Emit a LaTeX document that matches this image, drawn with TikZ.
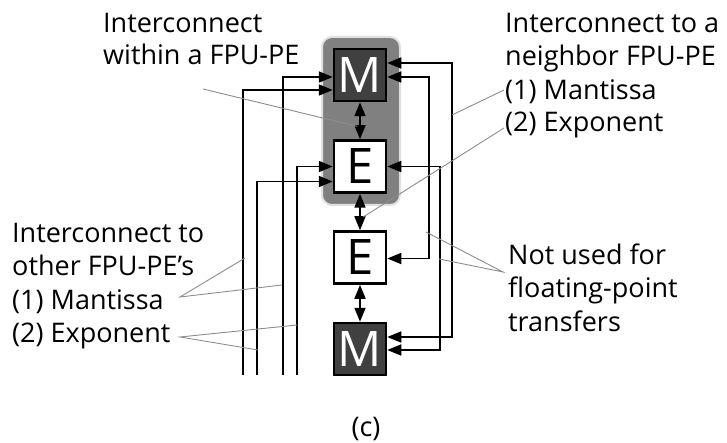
\documentclass[tikz,border=0pt]{standalone}
\usepackage{fontspec}
\setmainfont{Open Sans}
\usepackage{tikz}
\usetikzlibrary{arrows.meta,positioning,calc}

\tikzset{
  unit/.style={draw=black, line width=2.5pt, minimum size=52pt, inner sep=0pt, font=\fontsize{49}{49}\selectfont},
  mbox/.style={unit, fill=black!75, text=white},
  ebox/.style={unit, fill=white},
  txt/.style={anchor=base west, inner sep=0pt, font=\fontsize{27}{33}\selectfont},
  wire/.style={line width=1.7pt, -{Triangle[length=14pt,width=11pt]}},
  duplex/.style={line width=1.7pt, {Triangle[length=14pt,width=11pt]}-{Triangle[length=14pt,width=11pt]}},
  pointer/.style={draw=black!45, line width=0.9pt},
}

\begin{document}
\begin{tikzpicture}[x=1pt,y=-1pt]
\useasboundingbox (0,0) rectangle (727,443);
% FPU-PE
\draw[rounded corners=10pt, fill=black!50, draw=black!12, line width=2pt] (322,37) rectangle (400,205);
\node[mbox] (M1) at (360,75) {M};
\node[ebox] (E1) at (360,166.5) {E};
\node[ebox] (E2) at (360,257.5) {E};
\node[mbox] (M2) at (360,349) {M};
\draw[duplex] (M1) -- (E1);
\draw[duplex] (E1) -- (E2);
\draw[duplex] (E2) -- (M2);
% neighbor links
\draw[duplex] ([yshift=12pt]M1.east) -- ++(65,0) |- ([yshift=12pt]M2.east);
\draw[duplex] (E1.east) -- ++(53,0) |- ([yshift=-1pt]M2.east);
\draw[duplex] ([yshift=-2pt]M1.east) -- ++(42,0) |- ([yshift=-1pt]E2.east);
% links to other FPU-PEs
\coordinate (b1) at (243,375);
\coordinate (b2) at (257,375);
\coordinate (b3) at (283,375);
\coordinate (b4) at (297,375);
\draw[wire] (b1) |- ([yshift=-15pt]M1.west);
\draw[wire] (b3) |- ([yshift=-2pt]M1.west);
\draw[wire] (b4) |- (E1.west);
\draw[wire] (b2) |- ([yshift=-15pt]E1.west);
% labels
\node[txt] (in1) at (103,33) {Interconnect};
\node[txt] (in2) at (103,65) {within a FPU-PE};
\node[txt] (nb1) at (505,33) {Interconnect to a};
\node[txt] (nb2) at (505,66) {neighbor FPU-PE};
\node[txt] (nb3) at (505,100) {(1) Mantissa};
\node[txt] (nb4) at (505,132) {(2) Exponent};
\node[txt] (ot1) at (12,243) {Interconnect to};
\node[txt] (ot2) at (12,276) {other FPU-PE’s};
\node[txt] (ot3) at (12,309) {(1) Mantissa};
\node[txt] (ot4) at (12,342) {(2) Exponent};
\node[txt] (nu1) at (508,265) {Not used for};
\node[txt] (nu2) at (508,298) {floating-point};
\node[txt] (nu3) at (508,331) {transfers};
\node[txt, anchor=base] (cap) at (366,436) {(c)};
% pointers
\coordinate (p1) at (203,89);
\coordinate (p2) at (504,90);
\coordinate (p3) at (504,128);
\coordinate (p4) at (180,297);
\coordinate (p5) at (180,337);
\coordinate (p6) at (503,272);
\coordinate (q1) at (452,115);
\coordinate (q2) at (245,258);
\coordinate (q3) at (282,285);
\coordinate (q4) at (297,325);
\coordinate (q5) at (258,350);
\coordinate (q6) at (426,232);
\coordinate (q7) at (439,259);
\draw[pointer] (p1) -- ($(M1.south)!0.65!(E1.north)+(-3,0)$);
\draw[pointer] (p2) -- (q1);
\draw[pointer] (p3) -- ($(E1.south)!0.64!(E2.north)+(3,0)$);
\draw[pointer] (q2) -- (p4) -- (q3);
\draw[pointer] (q4) -- (p5) -- (q5);
\draw[pointer] (q6) -- (p6) -- (q7);
\end{tikzpicture}
\end{document}
